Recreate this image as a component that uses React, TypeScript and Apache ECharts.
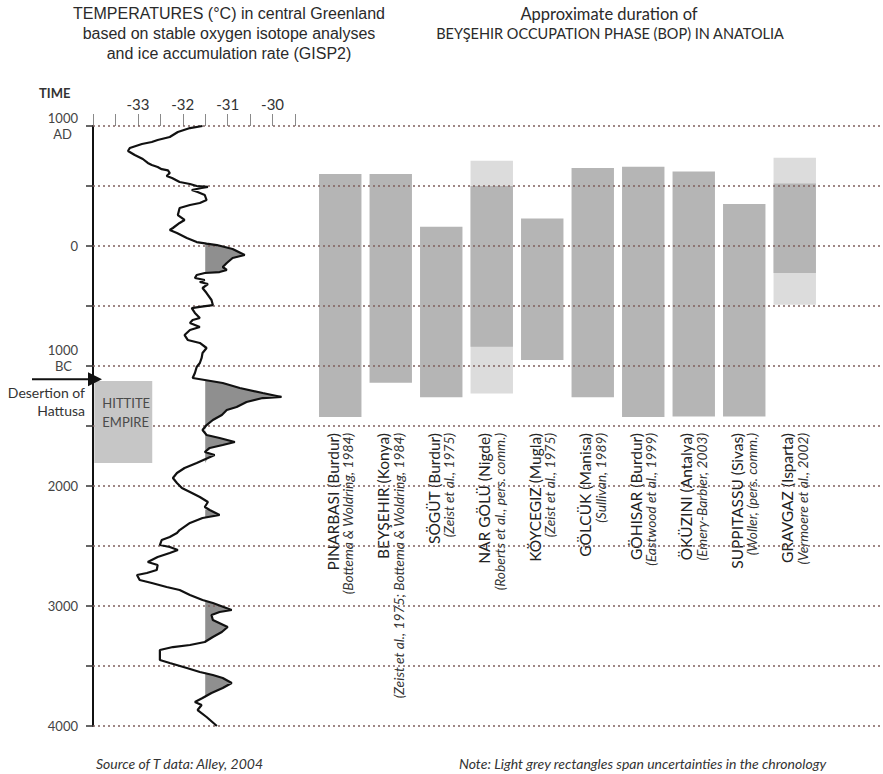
import React, { useEffect, useRef } from "react";
import * as echarts from "echarts";

const FONT = "Lato, 'Noto Sans', sans-serif";

// ---- GISP2 temperature curve (years: negative = AD, positive = BC) ----
const tempYears = [
  -1000, -983, -950, -908, -883, -867, -850, -817, -792, -758, -725, -692, -675, -658, -640, -630, -608, -583, -567,
  -533, -517, -500, -492, -483, -467, -450, -425, -383, -358, -342, -317, -258, -217, -192, -150, -133, -108, -67,
  -33, -20, -8, 25, 75, 100, 142, 175, 200, 217, 225, 242, 267, 283, 300, 317, 350, 392, 450, 492, 508, 517, 558,
  600, 617, 642, 675, 700, 742, 783, 808, 850, 892, 933, 975, 1008, 1058, 1100, 1117, 1142, 1183, 1225, 1258, 1267,
  1300, 1342, 1367, 1408, 1450, 1492, 1533, 1575, 1600, 1633, 1658, 1683, 1717, 1742, 1767, 1808, 1850, 1892, 1933,
  1975, 2017, 2050, 2092, 2133, 2175, 2200, 2242, 2267, 2308, 2367, 2392, 2425, 2450, 2492, 2508, 2533, 2558, 2592,
  2633, 2658, 2700, 2725, 2742, 2783, 2808, 2842, 2867, 2908, 2950, 2975, 3033, 3050, 3075, 3117, 3175, 3217, 3258,
  3300, 3325, 3342, 3367, 3450, 3475, 3517, 3550, 3575, 3600, 3642, 3683, 3725, 3767, 3800, 3825, 3867, 3925, 4000,
];
const tempValues = [
  -31.56, -31.84, -32.11, -32.29, -32.56, -32.69, -32.91, -33.18, -33.22, -33.07, -32.89, -32.78, -32.69, -32.56,
  -32.47, -32.33, -32.29, -32.36, -32.24, -32.07, -31.84, -31.69, -31.44, -31.58, -31.8, -31.67, -31.51, -31.47,
  -31.62, -31.84, -32.07, -32.11, -31.96, -32.07, -32.22, -32.29, -32.13, -31.91, -31.69, -31.47, -31.24, -30.89,
  -30.62, -30.89, -31.02, -31.11, -31.02, -31.18, -31.51, -31.69, -31.73, -31.51, -31.62, -31.44, -31.56, -31.47,
  -31.36, -31.33, -31.62, -31.8, -31.73, -31.62, -31.78, -31.84, -31.62, -31.84, -31.96, -31.89, -31.62, -31.47,
  -31.56, -31.58, -31.62, -31.69, -31.73, -31.78, -31.51, -31.11, -30.73, -30.22, -29.8, -30.22, -30.58, -30.8,
  -31.02, -31.13, -31.33, -31.47, -31.56, -31.47, -31.18, -30.84, -31.11, -31.4, -31.51, -31.29, -31.44, -31.69,
  -31.96, -32.13, -32.22, -32.13, -32.02, -31.84, -31.62, -31.44, -31.51, -31.4, -31.18, -31.56, -31.84, -32.07,
  -32.13, -32.29, -32.47, -32.51, -32.29, -32.11, -32.29, -32.56, -32.78, -32.56, -32.58, -32.8, -33.02, -32.96,
  -32.69, -32.36, -32.07, -31.84, -31.56, -31.33, -30.91, -31.18, -31.36, -31.33, -31.0, -31.13, -31.33, -31.51,
  -31.84, -32.22, -32.51, -32.51, -32.29, -31.91, -31.62, -31.33, -31.11, -30.91, -31.11, -31.36, -31.56, -31.73,
  -31.58, -31.67, -31.47, -31.24,
];
// warm periods shaded grey (start year, end year)
const warmStart = [-25, 1112, 2195, 2960, 3555];
const warmEnd = [228, 1850, 2262, 3305, 3765];
const baselineTemp = -31.5;

// ---- Beyşehir Occupation Phase sites ----
const siteNames = [
  "PINARBASI (Burdur)",
  "BEYŞEHIR (Konya)",
  "SÖGÜT (Burdur)",
  "NAR GÖLÜ (Nigde)",
  "KÖYCEGIZ (Mugla)",
  "GÖLCÜK (Manisa)",
  "GÖHISAR (Burdur)",
  "ÖKÜZINI (Antalya)",
  "SUPPITASSU (Sivas)",
  "GRAVGAZ (Isparta)",
];
const siteRefs = [
  "(Bottema & Woldring, 1984)",
  "(Zeist et al., 1975; Bottema & Woldring, 1984)",
  "(Zeist et al., 1975)",
  "(Roberts et al., pers. comm.)",
  "(Zeist et al., 1975)",
  "(Sullivan, 1989)",
  "(Eastwood et al., 1999)",
  "(Emery-Barbier, 2003)",
  "(Woller, (pers. comm.)",
  "(Vermoere et al., 2002)",
];
const bopStart = [-600, -600, -160, -500, -230, -650, -660, -620, -350, -520];
const bopEnd = [1425, 1140, 1260, 840, 950, 1260, 1425, 1420, 1420, 225];
const uncertStart = [null, null, null, -710, null, null, null, null, null, -735];
const uncertEnd = [null, null, null, 1230, null, null, null, null, null, 490];

// ---- annotations ----
const hittiteYears = [1125, 1808];
const hittiteTemps = [-33.97, -32.68];
const desertionYear = 1110;

// ---- axes ----
const timeMin = -1000;
const timeMax = 4000;
const timeStep = 500;
const tempMin = -34;
const tempMax = -29.5;
const tempStep = 0.5;
const tempLabels = [-33, -32, -31, -30];

function tempAt(yr: number): number {
  for (let i = 0; i < tempYears.length - 1; i++) {
    const a = tempYears[i];
    const b = tempYears[i + 1];
    if (yr >= a && yr <= b) {
      const f = (yr - a) / (b - a);
      return tempValues[i] + f * (tempValues[i + 1] - tempValues[i]);
    }
  }
  return tempValues[tempValues.length - 1];
}

const shadePolys = warmStart.map((a, k) => {
  const b = warmEnd[k];
  const pts: number[][] = [[Math.max(tempAt(a), baselineTemp), a]];
  tempYears.forEach((yr, i) => {
    if (yr > a && yr < b) pts.push([Math.max(tempValues[i], baselineTemp), yr]);
  });
  pts.push([Math.max(tempAt(b), baselineTemp), b]);
  pts.push([baselineTemp, b]);
  pts.push([baselineTemp, a]);
  return pts;
});

export default function App() {
  const ref = useRef<HTMLDivElement>(null);

  useEffect(() => {
    if (!ref.current) return;
    const chart = echarts.init(ref.current, undefined, { renderer: "svg" });

    const option: any = {
      animation: false,
      backgroundColor: "#ffffff",
      grid: [
        { left: 93, top: 126, width: 202, height: 600 },
        { left: 315, top: 126, width: 505, height: 600 },
        { left: 93, top: 126, right: 0, height: 600 },
      ],
      xAxis: [
        {
          gridIndex: 0,
          type: "value",
          position: "top",
          min: tempMin,
          max: tempMax,
          interval: tempStep,
          axisLine: { show: false, onZero: false },
          axisTick: { show: true, length: 12, lineStyle: { color: "#8a8a8a", width: 1 } },
          axisLabel: {
            formatter: (v: number) => (tempLabels.includes(v) ? String(v) : ""),
            margin: 15,
            fontSize: 15,
            fontFamily: FONT,
            color: "#333",
          },
          splitLine: { show: false },
        },
        {
          gridIndex: 1,
          type: "category",
          data: siteNames,
          position: "bottom",
          offset: -298,
          axisLine: { show: false, onZero: false },
          axisTick: { show: false },
          axisLabel: {
            interval: 0,
            rotate: 90,
            margin: 5,
            formatter: (v: string, i: number) => `{n|${v}}\n{c|${siteRefs[i]}}`,
            rich: {
              n: { fontSize: 15.5, fontFamily: FONT, color: "#222", lineHeight: 15 },
              c: { fontSize: 13.8, fontFamily: FONT, fontStyle: "italic", color: "#333", lineHeight: 15 },
            },
          },
          splitLine: { show: false },
        },
        { gridIndex: 2, type: "value", show: false, min: 0, max: 1 },
      ],
      yAxis: [
        {
          gridIndex: 0,
          type: "value",
          inverse: true,
          min: timeMin,
          max: timeMax,
          interval: timeStep,
          axisLine: { show: true, onZero: false, lineStyle: { color: "#111", width: 2 } },
          axisTick: { show: true, length: 7, lineStyle: { color: "#333", width: 1.5 } },
          axisLabel: {
            margin: 15,
            fontSize: 13,
            fontFamily: FONT,
            color: "#444",
            formatter: (v: number) => {
              if (v === -1000) return "{n|1000}\n{s|AD}";
              if (v === 1000) return "{n|1000}\n{s|BC}\n{n| }";
              return v % 1000 === 0 ? String(v) : "";
            },
            rich: {
              n: { fontSize: 13, lineHeight: 16, fontFamily: FONT, color: "#444" },
              s: { fontSize: 13, lineHeight: 16, fontFamily: FONT, color: "#444", padding: [0, 6, 0, 0] },
            },
          },
          splitLine: { show: false },
        },
        { gridIndex: 1, type: "value", inverse: true, min: timeMin, max: timeMax, show: false },
        {
          gridIndex: 2,
          type: "value",
          inverse: true,
          min: timeMin,
          max: timeMax,
          interval: timeStep,
          z: 3,
          axisLine: { show: false, onZero: false },
          axisTick: { show: false },
          axisLabel: { show: false },
          splitLine: { show: true, lineStyle: { type: [2, 3], color: "#80605e", width: 1.5 } },
        },
      ],
      series: [
        {
          type: "custom",
          name: "BOP",
          xAxisIndex: 1,
          yAxisIndex: 1,
          z: 1,
          data: siteNames.map((_, i) => [i, bopStart[i], bopEnd[i]]),
          encode: { x: 0, y: [1, 2] },
          renderItem: (params: any, api: any) => {
            const i = params.dataIndex;
            const w = api.size([1, 0])[0] * 0.84;
            const cx = api.coord([i, 0])[0];
            const children: any[] = [];
            if (uncertStart[i] != null) {
              const a = api.coord([i, uncertStart[i]]);
              const b = api.coord([i, uncertEnd[i]]);
              children.push({
                type: "rect",
                shape: { x: cx - w / 2, y: a[1], width: w, height: b[1] - a[1] },
                style: { fill: "#dcdcdc" },
              });
            }
            const a = api.coord([i, bopStart[i]]);
            const b = api.coord([i, bopEnd[i]]);
            children.push({
              type: "rect",
              shape: { x: cx - w / 2, y: a[1], width: w, height: b[1] - a[1] },
              style: { fill: "#b5b5b5" },
            });
            return { type: "group", children };
          },
        },
        {
          type: "custom",
          name: "warm",
          xAxisIndex: 0,
          yAxisIndex: 0,
          z: 1,
          data: warmStart.map((a, k) => [baselineTemp, a, warmEnd[k]]),
          encode: { x: 0, y: [1, 2] },
          renderItem: (params: any, api: any) => {
            const poly = shadePolys[params.dataIndex];
            return {
              type: "polygon",
              shape: { points: poly.map((p) => api.coord(p)) },
              style: { fill: "#8f8f8f" },
            };
          },
        },
        {
          type: "custom",
          name: "hittite",
          xAxisIndex: 0,
          yAxisIndex: 0,
          z: 4,
          data: [[hittiteTemps[0], hittiteYears[0], hittiteTemps[1], hittiteYears[1]]],
          encode: { x: [0, 2], y: [1, 3] },
          renderItem: (params: any, api: any) => {
            const p0 = api.coord([hittiteTemps[0], hittiteYears[0]]);
            const p1 = api.coord([hittiteTemps[1], hittiteYears[1]]);
            return {
              type: "group",
              children: [
                {
                  type: "rect",
                  shape: { x: p0[0], y: p0[1], width: p1[0] - p0[0], height: p1[1] - p0[1] },
                  style: { fill: "#c6c6c6" },
                },
                {
                  type: "text",
                  x: p0[0] + 8,
                  y: p0[1] + 12,
                  style: {
                    text: "HITTITE\nEMPIRE",
                    fill: "#4a4a4a",
                    fontSize: 13,
                    fontFamily: FONT,
                    lineHeight: 19,
                    align: "left",
                    verticalAlign: "top",
                  },
                },
              ],
            };
          },
        },
        {
          type: "line",
          name: "T",
          xAxisIndex: 0,
          yAxisIndex: 0,
          z: 5,
          showSymbol: false,
          symbol: "none",
          clip: false,
          lineStyle: { color: "#111", width: 2.2 },
          data: tempYears.map((y, i) => [tempValues[i], y]),
        },
      ],
    };

    chart.setOption(option);

    const ay = chart.convertToPixel({ yAxisIndex: 0 } as any, desertionYear) as number;
    const ax = chart.convertToPixel({ xAxisIndex: 0 } as any, tempMin) as number;

    const txt = (x: number, y: number, text: string, extra: any) => ({
      type: "text",
      x,
      y,
      z: 10,
      style: { text, fill: "#2a2a2a", fontFamily: FONT, ...extra },
    });

    chart.setOption({
      graphic: [
        txt(229, 3, "TEMPERATURES (°C) in central Greenland\nbased on stable oxygen isotope analyses\nand ice accumulation rate (GISP2)", {
          fontFamily: "'Liberation Sans', Arial, sans-serif",
          fontSize: 16,
          lineHeight: 20,
          align: "center",
          verticalAlign: "top",
        }),
        txt(609, 14, "Approximate duration of", {
          fontSize: 16.5,
          align: "center",
          verticalAlign: "middle",
        }),
        txt(610, 33, "BEYŞEHIR OCCUPATION PHASE (BOP) IN ANATOLIA", {
          fontSize: 14.5,
          align: "center",
          verticalAlign: "middle",
        }),
        txt(39, 93, "TIME", { fontSize: 13, fontWeight: "bold", align: "left", verticalAlign: "middle", fill: "#333" }),
        txt(96, 763, "Source of T data: Alley, 2004", {
          fontSize: 14,
          fontStyle: "italic",
          align: "left",
          verticalAlign: "middle",
          fill: "#333",
        }),
        txt(459, 763, "Note: Light grey rectangles span uncertainties in the chronology", {
          fontSize: 14,
          fontStyle: "italic",
          align: "left",
          verticalAlign: "middle",
          fill: "#333",
        }),
        txt(85, ay + 4, "Desertion of\nHattusa", {
          fontSize: 14,
          lineHeight: 18,
          align: "right",
          verticalAlign: "top",
          fill: "#333",
        }),
        {
          type: "line",
          z: 10,
          shape: { x1: 32, y1: ay, x2: ax - 2, y2: ay },
          style: { stroke: "#111", lineWidth: 2 },
        },
        {
          type: "polygon",
          z: 10,
          shape: { points: [[ax - 5, ay - 7], [ax + 9, ay], [ax - 5, ay + 7]] },
          style: { fill: "#111" },
        },
      ],
    });

    return () => chart.dispose();
  }, []);

  return (
    <div
      ref={ref}
      style={{ position: "fixed", left: 0, top: 0, width: 883, height: 774, background: "#fff" }}
    />
  );
}
